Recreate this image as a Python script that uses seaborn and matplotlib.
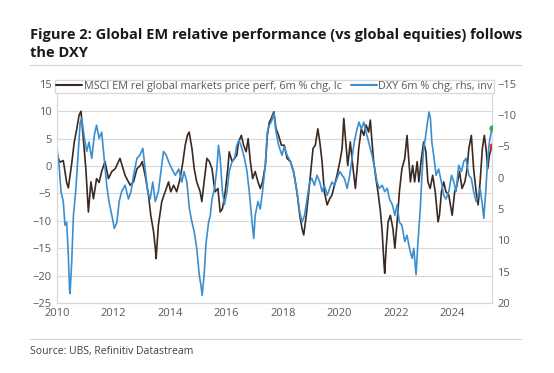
import numpy as np
import pandas as pd
import seaborn as sns
import matplotlib.pyplot as plt
from matplotlib.lines import Line2D

# MSCI EM relative to global markets, 6m % chg (lhs)
em_t = [2010.00, 2010.10, 2010.22, 2010.34, 2010.40, 2010.52, 2010.61, 2010.70, 2010.78, 2010.85,
        2010.93, 2011.02, 2011.11, 2011.20, 2011.29, 2011.40, 2011.49, 2011.58, 2011.70, 2011.82,
        2011.94, 2012.06, 2012.23, 2012.41, 2012.59, 2012.71, 2012.83, 2012.95, 2013.02, 2013.12,
        2013.24, 2013.32, 2013.42, 2013.48, 2013.51, 2013.59, 2013.71, 2013.83, 2013.95, 2014.03,
        2014.13, 2014.24, 2014.36, 2014.46, 2014.54, 2014.62, 2014.68, 2014.78, 2014.86, 2014.95,
        2015.07, 2015.13, 2015.21, 2015.31, 2015.40, 2015.49, 2015.55, 2015.60, 2015.70, 2015.78,
        2015.86, 2015.96, 2016.05, 2016.10, 2016.20, 2016.29, 2016.37, 2016.43, 2016.53, 2016.61,
        2016.70, 2016.77, 2016.85, 2016.93, 2017.02, 2017.12, 2017.20, 2017.28, 2017.38, 2017.45,
        2017.52, 2017.59, 2017.68, 2017.76, 2017.85, 2017.95, 2018.05, 2018.15, 2018.27, 2018.38,
        2018.50, 2018.60, 2018.68, 2018.74, 2018.83, 2018.92, 2019.00, 2019.07, 2019.15, 2019.24,
        2019.31, 2019.39, 2019.47, 2019.57, 2019.66, 2019.74, 2019.83, 2019.92, 2020.02, 2020.10,
        2020.16, 2020.22, 2020.30, 2020.39, 2020.49, 2020.57, 2020.65, 2020.69, 2020.78, 2020.87,
        2020.95, 2021.04, 2021.10, 2021.16, 2021.22, 2021.30, 2021.37, 2021.46, 2021.52, 2021.58,
        2021.61, 2021.66, 2021.73, 2021.81, 2021.90, 2021.97, 2022.05, 2022.13, 2022.22, 2022.32,
        2022.40, 2022.46, 2022.52, 2022.60, 2022.67, 2022.76, 2022.82, 2022.91, 2022.99, 2023.07,
        2023.14, 2023.22, 2023.31, 2023.40, 2023.50, 2023.55, 2023.62, 2023.70, 2023.78, 2023.88,
        2024.00, 2024.09, 2024.17, 2024.26, 2024.35, 2024.45, 2024.53, 2024.59, 2024.68, 2024.76,
        2024.85, 2024.92, 2024.99, 2025.07, 2025.14, 2025.20, 2025.26, 2025.32, 2025.41]
em_val = [2.0, 0.7, 1.0, -3.0, -4.0, 0.5, 4.4, 6.8, 9.3, 10.0,
          5.0, -0.5, -8.4, -2.9, -6.0, -2.3, -3.0, -1.0, 0.8, -2.3,
          -1.0, -0.5, 1.4, -1.7, -3.5, -2.9, -0.5, 0.1, 0.8, -1.7,
          -5.3, -9.0, -12.0, -15.0, -16.9, -10.8, -6.5, -4.7, -2.9, -4.7,
          -3.5, -4.7, -2.3, 0.8, 3.8, 5.6, 6.2, 3.2, -0.5, -2.9,
          -4.7, -6.5, -2.9, 1.4, 0.8, -0.5, -2.9, -4.7, -4.1, -8.4,
          -7.8, -4.7, -0.5, 2.6, 0.8, 1.4, 2.0, 4.4, 5.6, 3.8,
          2.6, 5.0, 0.8, -2.3, -1.0, -2.9, -4.1, -2.9, 0.1, 5.6,
          8.0, 8.7, 9.9, 6.8, 5.6, 3.8, 3.8, 1.4, 0.8, -1.0,
          -4.7, -9.0, -11.4, -12.6, -9.0, -4.7, -0.5, 3.2, 3.8, 6.8,
          4.4, 0.8, -4.7, -7.1, -6.0, -5.3, -3.5, -1.7, 0.8, 3.2,
          8.7, 5.0, 0.1, 4.4, -0.5, -4.1, 0.5, 3.2, 6.8, 5.6,
          7.5, 6.2, 8.4, 4.4, 0.8, -2.3, -4.7, -8.4, -12.0, -17.5,
          -19.6, -15.0, -10.2, -9.0, -11.4, -15.0, -10.2, -4.7, -0.5, 1.4,
          5.6, 1.4, -2.9, 0.1, -2.9, 0.8, -2.9, 1.4, 4.4, 2.6,
          -2.9, -4.1, -1.7, -4.7, -10.2, -9.0, -4.7, -2.9, -4.7, -5.3,
          -9.0, -4.7, -3.5, -1.0, -4.1, -2.9, -0.5, 3.2, 5.6, -0.5,
          -4.7, -7.1, -2.9, 3.2, 5.6, 3.2, -0.5, 2.0, 3.7]

# DXY 6m % chg (rhs, inverted)
dxy_t = [2010.00, 2010.07, 2010.14, 2010.22, 2010.28, 2010.34, 2010.40, 2010.44, 2010.46, 2010.52,
         2010.58, 2010.66, 2010.73, 2010.82, 2010.87, 2010.97, 2011.05, 2011.13, 2011.23, 2011.32,
         2011.40, 2011.49, 2011.58, 2011.68, 2011.76, 2011.84, 2011.94, 2012.03, 2012.12, 2012.20,
         2012.29, 2012.41, 2012.53, 2012.62, 2012.71, 2012.83, 2012.93, 2013.04, 2013.12, 2013.21,
         2013.30, 2013.39, 2013.48, 2013.59, 2013.71, 2013.77, 2013.87, 2013.95, 2014.07, 2014.19,
         2014.31, 2014.42, 2014.50, 2014.60, 2014.69, 2014.78, 2014.86, 2014.95, 2015.04, 2015.10,
         2015.14, 2015.21, 2015.28, 2015.37, 2015.43, 2015.49, 2015.58, 2015.66, 2015.72, 2015.78,
         2015.86, 2015.93, 2016.02, 2016.10, 2016.20, 2016.29, 2016.37, 2016.45, 2016.55, 2016.64,
         2016.73, 2016.81, 2016.91, 2016.97, 2017.02, 2017.12, 2017.20, 2017.28, 2017.38, 2017.45,
         2017.52, 2017.59, 2017.68, 2017.76, 2017.85, 2017.97, 2018.05, 2018.15, 2018.27, 2018.38,
         2018.50, 2018.60, 2018.68, 2018.77, 2018.86, 2018.95, 2019.03, 2019.12, 2019.21, 2019.31,
         2019.39, 2019.47, 2019.57, 2019.66, 2019.74, 2019.83, 2019.92, 2020.02, 2020.10, 2020.18,
         2020.28, 2020.37, 2020.45, 2020.53, 2020.63, 2020.70, 2020.78, 2020.87, 2020.95, 2021.04,
         2021.16, 2021.26, 2021.34, 2021.42, 2021.52, 2021.61, 2021.70, 2021.78, 2021.88, 2021.97,
         2022.05, 2022.13, 2022.22, 2022.32, 2022.40, 2022.49, 2022.58, 2022.64, 2022.70, 2022.72,
         2022.79, 2022.87, 2022.93, 2022.99, 2023.05, 2023.11, 2023.18, 2023.23, 2023.28, 2023.36,
         2023.43, 2023.52, 2023.62, 2023.70, 2023.78, 2023.88, 2023.98, 2024.06, 2024.14, 2024.23,
         2024.33, 2024.41, 2024.49, 2024.59, 2024.68, 2024.76, 2024.85, 2024.92, 2024.99, 2025.07,
         2025.12, 2025.19, 2025.26, 2025.32, 2025.41]
dxy_val = [-4.7, -2.0, 2.2, 3.8, 7.6, 7.1, 12.4, 17.7, 18.5, 13.4,
           6.0, 2.2, -2.6, -8.9, -9.5, -6.3, -4.2, -5.7, -3.1, -6.8,
           -8.4, -6.3, -7.3, -2.6, 1.2, 3.8, 6.0, 8.1, 7.1, 3.8,
           2.2, 1.2, 3.4, 2.2, -0.4, -3.1, -3.6, -4.7, -1.4, 2.2,
           3.4, 0.7, 3.8, 2.2, -2.0, -4.2, -3.6, -2.6, -1.4, -0.4,
           -1.4, 0.7, -1.0, 0.7, 5.0, 7.1, 8.6, 11.3, 15.6, 17.2,
           18.8, 15.6, 10.4, 7.1, 6.0, 3.4, 1.7, -1.4, -5.2, -3.1,
           2.2, 4.3, 2.2, -1.0, -2.6, -3.1, -5.2, -6.0, -4.7, -3.1,
           -1.0, 2.2, 7.1, 9.7, 6.0, 3.8, 5.0, 2.2, -2.0, -7.3,
           -8.4, -8.9, -10.3, -7.3, -5.2, -3.6, -5.0, -3.6, -2.6, -1.0,
           2.2, 5.5, 7.1, 6.0, 3.4, 0.7, 0.1, 1.2, -0.4, 0.7,
           2.2, 1.2, 2.8, 1.7, 0.7, 1.2, 0.1, -1.0, -0.4, 0.1,
           1.7, -0.4, -3.1, -5.7, -7.8, -8.9, -7.8, -8.9, -7.3, -5.7,
           -3.6, -1.4, 0.7, 1.7, 1.2, 2.2, 1.7, 3.4, 4.3, 6.0,
           4.3, 7.1, 7.6, 10.2, 9.2, 11.3, 12.9, 11.3, 14.5, 15.5,
           10.2, 5.0, -0.4, -4.7, -6.3, -8.4, -10.5, -9.5, -5.7, -3.1,
           -0.4, -1.4, 0.7, 2.8, 3.4, 2.2, -0.4, 0.7, 2.2, -2.0,
           -1.0, -2.6, -3.1, -0.4, 0.1, 2.2, 3.8, 2.8, 1.7, 4.3,
           6.5, 2.2, -3.1, -5.7, -8.0]

year_ticks = [2010, 2012, 2014, 2016, 2018, 2020, 2022, 2024]
left_ticks = [15, 10, 5, 0, -5, -10, -15, -20, -25]
right_ticks = [-15, -10, -5, 0, 5, 10, 15, 20]

BROWN = '#3b2a21'
BLUE = '#3a8fd0'
GRID = '#d9d9d9'
TXT = '#595959'

sns.set_theme(style='white')
plt.rcParams['font.family'] = ['Open Sans', 'DejaVu Sans']

fig = plt.figure(figsize=(5.54, 3.73), dpi=100)
ax = fig.add_axes([0.103, 0.188, 0.785, 0.587])
ax2 = ax.twinx()

sns.lineplot(x=em_t, y=em_val, ax=ax, color=BROWN, lw=1.2,
             label='MSCI EM rel global markets price perf, 6m % chg, lc')
sns.lineplot(x=dxy_t, y=dxy_val, ax=ax2, color=BLUE, lw=1.2,
             label='DXY 6m % chg, rhs, inv')

# latest-value markers
ax2.plot(dxy_t[-1], dxy_val[-1], 'o', color='#2db34a', ms=3.5, zorder=5)
ax.plot(em_t[-1], em_val[-1], 'o', color='#e8262a', ms=3.5, zorder=5)

ax.set_xlim(2010, 2025.41)
ax.set_ylim(-25, 15)
ax2.set_ylim(20, -15)
ax.set_xticks(year_ticks)
ax.set_xticklabels([str(y) for y in year_ticks])
ax.set_yticks(left_ticks)
ax2.set_yticks(right_ticks)
ax.grid(axis='y', color=GRID, lw=0.8)
ax.set_axisbelow(True)
ax.set_xlabel('')
ax.set_ylabel('')
ax2.set_ylabel('')
for a in (ax, ax2):
    a.tick_params(length=0, labelsize=8, colors=TXT, pad=4)
    for s in a.spines.values():
        s.set_color(GRID)
        s.set_linewidth(0.8)

ax.get_legend().remove()
h1, l1 = ax.get_legend_handles_labels()
h2, l2 = ax2.get_legend_handles_labels()
leg = ax2.legend(h1 + h2, l1 + l2, loc='upper center', bbox_to_anchor=(0.5, 1.03),
                 ncol=2, fontsize=7.8, frameon=True, fancybox=False, edgecolor=GRID,
                 framealpha=1, handlelength=2.4, columnspacing=0.8, handletextpad=0.15,
                 borderpad=0.1, borderaxespad=0.2)
for t in leg.get_texts():
    t.set_color(TXT)
for h in leg.get_lines():
    h.set_linewidth(1.5)

fig.text(0.054, 0.882, 'Figure 2: Global EM relative performance (vs global equities) follows\nthe DXY',
         fontsize=10.5, fontweight='bold', color='#1a1a1a', va='center', linespacing=1.4)
fig.add_artist(Line2D([0.054, 0.94], [0.827, 0.827], color='#d0d0d0', lw=0.8))
fig.add_artist(Line2D([0.054, 0.94], [0.091, 0.091], color='#d0d0d0', lw=0.8))
fig.text(0.054, 0.058, 'Source: UBS, Refinitiv Datastream', fontsize=7.5, color='#404040', va='center')

fig.savefig('out.png', dpi=100)
